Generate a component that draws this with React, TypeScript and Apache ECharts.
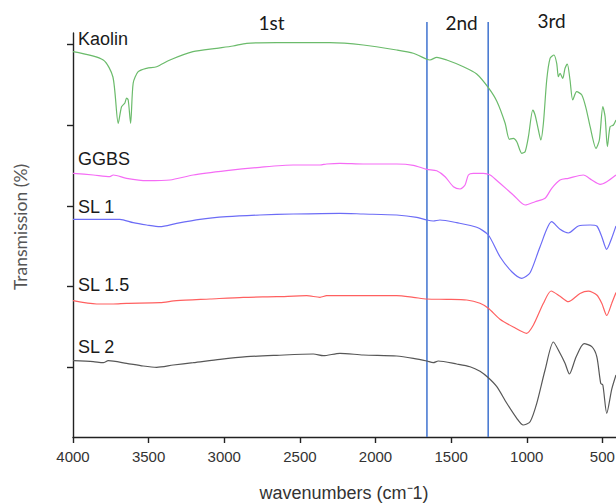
import React, { useEffect, useRef } from "react";
import * as echarts from "echarts";

// Wavenumber ticks (cm-1)
const wnTicks = [4000, 3500, 3000, 2500, 2000, 1500, 1000, 500];
// y ticks (offset transmission, arbitrary units)
const yTicks = [70, 150.5, 231, 311.5, 392.5];
// region boundaries (cm-1)
const regionBounds = [1660, 1255];
const regionNames = ["1st", "2nd", "3rd"];
const seriesNames = ["Kaolin", "GGBS", "SL 1", "SL 1.5", "SL 2"];

const kaolinWn = [4000, 3800, 3736, 3701, 3679, 3657, 3646, 3635, 3619, 3602, 3569, 3513, 3447, 3359, 3207, 3050, 2942, 2852, 2653, 2433, 2301, 2081, 1860, 1750, 1661, 1640, 1595, 1529, 1419, 1331, 1254, 1198, 1143, 1115, 1089, 1066, 1033, 1011, 989, 960, 945, 923, 907, 890, 868, 846, 820, 802, 791, 780, 762, 747, 732, 714, 696, 670, 636, 608, 581, 542, 520, 497, 482, 467, 449, 427, 410];
const kaolinT = [385.3, 377, 360, 313.7, 330.3, 334, 339, 337, 313.7, 354, 365.3, 368.7, 370.3, 377, 385.3, 388.7, 391, 393.7, 394.3, 394.3, 394.3, 392, 387, 383.7, 377.7, 377, 379.7, 377, 370.3, 363, 349.3, 335.7, 313.7, 297.7, 298.7, 295.3, 283.7, 285.3, 300.3, 327, 322, 307, 297, 313.7, 357, 378.7, 382, 373.7, 360.3, 363.7, 358.7, 368.7, 373, 357, 337, 345.3, 342, 328.7, 310.3, 288.7, 297, 330.3, 320.3, 290.3, 310.3, 312, 317];

const ggbsWn = [4000, 3866, 3756, 3734, 3646, 3513, 3359, 3205, 2984, 2764, 2544, 2367, 2323, 2235, 2081, 1860, 1750, 1661, 1595, 1540, 1485, 1441, 1408, 1386, 1353, 1287, 1242, 1177, 1089, 1011, 945, 879, 835, 780, 725, 626, 570, 515, 471, 410];
const ggbsT = [263.7, 262, 260.3, 262, 258.7, 256.3, 257, 262, 266.3, 269.7, 272, 272, 273, 273.7, 273, 273, 271.7, 267.7, 266.3, 260.3, 250.3, 248, 252, 262, 263.7, 263.7, 262, 253.7, 242, 232, 235.3, 238.7, 248.7, 257, 258.7, 262, 257, 252.7, 255.3, 262];

const sl1Wn = [4000, 3690, 3602, 3513, 3425, 3315, 3161, 2984, 2764, 2544, 2235, 2081, 1860, 1727, 1661, 1618, 1574, 1463, 1331, 1254, 1177, 1099, 1033, 978, 912, 835, 780, 725, 659, 581, 537, 504, 472, 438, 410];
const sl1T = [217.7, 217.7, 214.3, 212, 210.3, 213.7, 217.7, 220.3, 222, 223, 223.7, 223, 222, 219.7, 217, 216, 217, 214.3, 209.7, 202, 180.3, 165.3, 158.7, 164.3, 190.3, 215.3, 207.7, 204, 211, 212, 211, 200.3, 187.7, 199, 211];

const sl15Wn = [4000, 3844, 3734, 3646, 3425, 3315, 3095, 2874, 2653, 2455, 2367, 2323, 2235, 2081, 1860, 1750, 1661, 1529, 1397, 1309, 1254, 1177, 1089, 1001, 956, 890, 839, 780, 725, 648, 593, 537, 504, 471, 438, 410];
const sl15T = [136.3, 133, 133, 133.7, 134.3, 136.3, 138, 139.7, 140.3, 141.3, 139.7, 141.3, 141.3, 141.3, 141.3, 139.7, 138, 137.7, 137, 133.7, 128.7, 117.7, 110, 103.7, 112, 133.7, 146, 140.7, 135.3, 143.5, 145.8, 142, 133.7, 121.5, 133.7, 144.5];

const sl2Wn = [4000, 3866, 3800, 3767, 3646, 3536, 3447, 3337, 3205, 3028, 2852, 2653, 2411, 2345, 2235, 2081, 1860, 1750, 1661, 1618, 1585, 1463, 1375, 1309, 1254, 1198, 1132, 1066, 1024, 978, 934, 879, 824, 780, 747, 718, 674, 621, 570, 537, 511, 497, 471, 438, 410];
const sl2T = [76.3, 75.3, 74.3, 76.3, 73.7, 71, 69.7, 72, 74.3, 77.7, 80.3, 81.7, 83, 81.3, 83.7, 82, 81, 78.7, 76, 74.3, 76, 73, 70.3, 65.7, 59.2, 50.3, 33.7, 18.7, 12, 15.3, 33.7, 67, 95, 83.7, 73.7, 63, 80, 93.3, 90.3, 80.3, 53.7, 52, 23.7, 47.8, 62];

const seriesWn = [kaolinWn, ggbsWn, sl1Wn, sl15Wn, sl2Wn];
const seriesT = [kaolinT, ggbsT, sl1T, sl15T, sl2T];
const seriesColors = ["#6bbb6b", "#f56cf5", "#6c6cf6", "#ff6060", "#575757"];

const zip = (a: number[], b: number[]) => a.map((v, i) => [v, b[i]]);

export default function App() {
  const ref = useRef<HTMLDivElement>(null);
  useEffect(() => {
    if (!ref.current) return;
    const chart = echarts.init(ref.current, null, { renderer: "svg" });
    const lineSeries: any[] = seriesNames.map((name, i) => ({
      name,
      type: "line",
      data: zip(seriesWn[i], seriesT[i]),
      symbol: "none",
      smooth: 0.25,
      lineStyle: { color: seriesColors[i], width: 1.2 },
      z: 3,
    }));
    const boundSeries: any[] = regionBounds.map((b, i) => ({
      name: "bound" + i,
      type: "line",
      data: [[b, 0], [b, 415]],
      symbol: "none",
      clip: false,
      lineStyle: { color: "#4a7bd2", width: 1.6 },
      z: 2,
    }));
    const labelY = [38.5, 159, 206.5, 285, 346.7];
    const regionX = [271.5, 461.5, 551.5];
    const regionY = [22, 22, 20];
    chart.setOption({
      animation: false,
      grid: { left: 73, right: 0, top: 33, bottom: 67, containLabel: false, outerBoundsMode: "none" },
      xAxis: {
        type: "value",
        inverse: true,
        min: 410,
        max: 4000,
        axisLine: { onZero: false, lineStyle: { color: "#222", width: 1.4 } },
        axisTick: { show: true, customValues: wnTicks, length: 6, lineStyle: { color: "#222", width: 1.4 } },
        axisLabel: {
          customValues: wnTicks,
          formatter: (v: number) => String(v),
          fontSize: 15,
          fontFamily: "Liberation Sans",
          color: "#333",
          margin: 12,
          hideOverlap: false,
        },
        splitLine: { show: false },
      },
      yAxis: {
        type: "value",
        min: 0,
        max: 404,
        axisLine: { show: true, onZero: false, lineStyle: { color: "#222", width: 1.4 } },
        axisTick: { show: true, customValues: yTicks, length: 6, lineStyle: { color: "#222", width: 1.4 } },
        axisLabel: { show: false },
        splitLine: { show: false },
      },
      series: [...boundSeries, ...lineSeries],
      graphic: [
        ...seriesNames.map((n, i) => ({
          type: "text",
          x: 78,
          y: labelY[i],
          style: {
            text: n,
            fontSize: 18,
            fontFamily: "Liberation Sans",
            fill: "#1a1a1a",
            verticalAlign: "middle",
            align: "left",
          },
          z: 10,
        })),
        ...regionNames.map((n, i) => ({
          type: "text",
          x: regionX[i],
          y: regionY[i],
          style: {
            text: n,
            fontSize: 19,
            fontFamily: "Lato",
            fill: "#1a1a1a",
            verticalAlign: "middle",
            align: "center",
          },
          z: 10,
        })),
        {
          type: "text",
          x: 20,
          y: 227,
          rotation: Math.PI / 2,
          style: {
            text: "Transmission (%)",
            fontSize: 17.5,
            fontFamily: "Lato",
            fill: "#555",
            align: "center",
            verticalAlign: "middle",
          },
        },
        {
          type: "text",
          x: 344,
          y: 493,
          style: {
            text: "wavenumbers (cm\u207B1)",
            fontSize: 18,
            fontFamily: "Liberation Sans",
            fill: "#333",
            align: "center",
            verticalAlign: "middle",
          },
        },
      ],
    });
    return () => chart.dispose();
  }, []);
  return (
    <div
      ref={ref}
      style={{ position: "absolute", left: 0, top: 0, width: 616, height: 504, background: "#fff" }}
    />
  );
}
